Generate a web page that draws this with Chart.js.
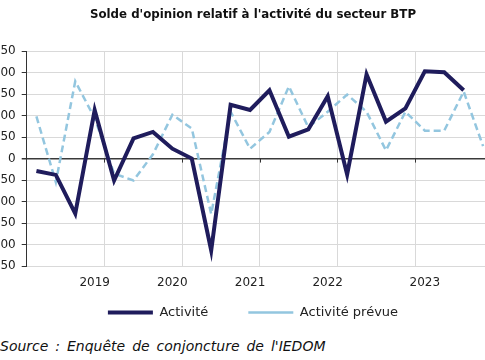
<!DOCTYPE html>
<html>
<head>
<meta charset="utf-8">
<script src="https://cdn.jsdelivr.net/npm/chart.js@4"></script>
<style>
  html, body { margin: 0; padding: 0; background: #fff; overflow: hidden; width: 485px; height: 360px; }
  #wrap { position: absolute; left: -20px; top: 0; width: 540px; height: 329px; }
  #source {
    position: absolute; left: 0; top: 338px;
    font: italic 14px "DejaVu Sans", sans-serif; color: #111; word-spacing: 2.5px; white-space: nowrap;
  }
</style>
</head>
<body>
<div id="wrap"><canvas id="LineChart" width="540" height="329"></canvas></div>
<div id="source">Source : Enquête de conjoncture de l'IEDOM</div>
<script>
// quarters 2018 T1 -> 2023 T4, only some labelled like the original
const labels = ["", "", "", "2019", "", "", "", "2020", "", "", "", "2021",
  "", "", "", "2022", "", "", "", "", "2023", "", "", ""];
const activite = [-29, -38, -128, 113, -51, 47, 62, 23, 0, -214, 125, 113,
  159, 51, 68, 145, -37, 196, 86, 117, 203, 201, 159, null];
const activitePrevue = [98, -55, 180, 94, -35, -51, 10, 102, 70, -129, 109, 23,
  62, 168, 73, 109, 149, 109, 19, 109, 65, 65, 156, 29];
const yTicks = { min: -250, max: 250, step: 50 };

const navy = "#1f1c5c";
const lightBlue = "#93c6df";

// scales were squeezed in afterFit to place title/legend; give the labels room back
// so they are not clipped to the scale box
const unclip = {
  id: "unclip",
  afterLayout(chart) {
    chart.scales.y.left -= 40;
    chart.scales.x.bottom = chart.scales.x.top + 30;
  }
};

// little dark tick marks on the zero line at each year boundary
const zeroTicks = {
  id: "zeroTicks",
  beforeDatasetsDraw(chart) {
    const xs = chart.scales.x, ys = chart.scales.y, ctx = chart.ctx;
    const y0 = ys.getPixelForValue(0);
    ctx.save();
    ctx.strokeStyle = "#333";
    ctx.lineWidth = 1;
    for (let i = 4; i < labels.length; i += 4) {
      const x = Math.round((xs.getPixelForValue(i - 1) + xs.getPixelForValue(i)) / 2) + 0.5;
      ctx.beginPath();
      ctx.moveTo(x, y0);
      ctx.lineTo(x, y0 + 4);
      ctx.stroke();
    }
    ctx.restore();
  }
};

const ctx = document.getElementById("LineChart").getContext("2d");
new Chart(ctx, {
  type: "line",
  data: {
    labels: labels,
    datasets: [
      {
        label: "Activité",
        data: activite,
        borderColor: navy,
        backgroundColor: navy,
        borderWidth: 4,
        pointRadius: 0,
        tension: 0,
        fill: false,
      },
      {
        label: "Activité prévue",
        data: activitePrevue,
        borderColor: lightBlue,
        backgroundColor: lightBlue,
        borderWidth: 2.5,
        borderDash: [7, 4],
        pointRadius: 0,
        tension: 0,
        fill: false,
      },
    ],
  },
  plugins: [unclip, zeroTicks],
  options: {
    responsive: false,
    animation: false,
    layout: { padding: { left: 33.2, right: 27.2, top: 0, bottom: 0 } },
    plugins: {
      title: {
        display: true,
        text: "Solde d'opinion relatif à l'activité du secteur BTP",
        color: "#111",
        font: { family: "DejaVu Sans", size: 11.8, weight: "bold" },
        padding: { top: 8, bottom: 29 },
      },
      legend: {
        position: "bottom",
        labels: {
          boxWidth: 45,
          boxHeight: 0,
          padding: 40,
          color: "#222",
          font: { family: "DejaVu Sans", size: 13 },
        },
      },
      tooltip: { enabled: false },
    },
    scales: {
      x: {
        offset: true,
        afterFit: (scale) => { scale.height = 0; },
        grid: {
          offset: true,
          drawTicks: false,
          color: (c) => (c.index > 0 && c.index % 4 === 0 ? "#d9d9d9" : "rgba(0,0,0,0)"),
        },
        border: { display: false },
        ticks: {
          autoSkip: false,
          maxRotation: 0,
          padding: 10,
          color: "#222",
          font: { family: "DejaVu Sans", size: 12 },
          callback: (v, i) => labels[i],
        },
      },
      y: {
        min: yTicks.min,
        max: yTicks.max,
        afterFit: (scale) => { scale.width = 13.5; },
        grid: {
          color: (c) => (c.tick && c.tick.value === 0 ? "#3a3a3a" : "#d9d9d9"),
          lineWidth: (c) => (c.tick && c.tick.value === 0 ? 1.5 : 1),
          tickColor: "#333",
          tickLength: 5,
        },
        border: { display: true, color: "#333", width: 1 },
        ticks: {
          stepSize: yTicks.step,
          padding: 6,
          color: "#222",
          font: { family: "DejaVu Sans", size: 12 },
        },
      },
    },
  },
});
</script>
</body>
</html>
